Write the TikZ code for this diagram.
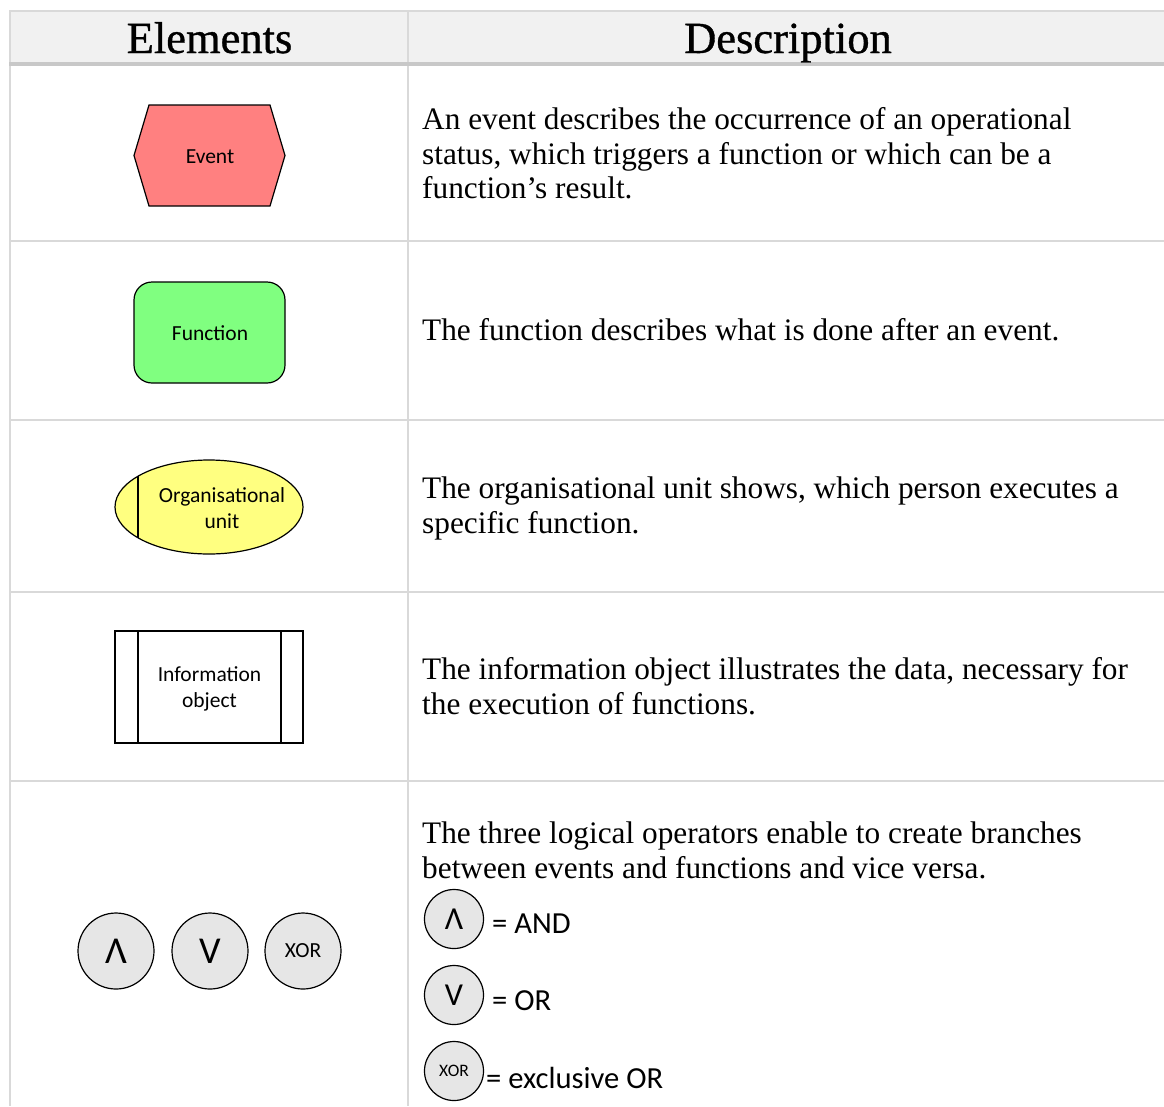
\documentclass[tikz,border=0pt]{standalone}
\usepackage{fontspec}
\setmainfont{Liberation Serif}
\newfontfamily\headfont[FakeBold=0.8]{Liberation Serif}
\newfontfamily\shapefont{Carlito}
\usetikzlibrary{shapes.geometric}

\definecolor{gridgray}{HTML}{D9D9D9}
\definecolor{headline}{HTML}{C8C8C8}
\definecolor{headfill}{HTML}{F1F1F1}
\definecolor{evtred}{HTML}{FF8080}
\definecolor{fungreen}{HTML}{80FF80}
\definecolor{orgyellow}{HTML}{FFFF80}
\definecolor{opgray}{HTML}{E6E6E6}

\begin{document}
\begin{tikzpicture}[x=1pt,y=-1pt,
  grid/.style={draw=gridgray,line width=2pt},
  shapeline/.style={draw=black,line width=1.2pt},
  lbl/.style={font=\shapefont\fontsize{21.5}{25.5}\selectfont,align=center,inner sep=0pt},
  desc/.style={font=\fontsize{31.3}{34.5}\selectfont,anchor=base west,inner sep=0pt},
  head/.style={font=\headfont\fontsize{44.5}{50}\selectfont,anchor=base,inner sep=0pt},
  opbig/.style={shapeline,circle,fill=opgray,minimum size=76pt,inner sep=0pt},
  opsmall/.style={shapeline,circle,fill=opgray,minimum size=59pt,inner sep=0pt},
  opsym/.style={font=\shapefont\fontsize{38}{42}\selectfont},
  opsymsmall/.style={font=\shapefont\fontsize{32}{36}\selectfont},
  opxor/.style={font=\shapefont\fontsize{21.5}{24}\selectfont},
  opxorsmall/.style={font=\shapefont\fontsize{17.5}{20}\selectfont},
  opdesc/.style={font=\shapefont\fontsize{30.6}{34}\selectfont,anchor=west,inner sep=0pt}
]
\useasboundingbox (0,0) rectangle (1164,1106);
\fill[white] (0,0) rectangle (1164,1106);

% table: header band and rules
\fill[headfill] (10,11) rectangle (1164,64);
\draw[grid] (9,11) -- (1164,11);
\draw[grid] (10,11) -- (10,1106);
\draw[grid] (408,11) -- (408,1106);
\foreach \yy in {241,420,592,781}
  \draw[grid] (10,\yy) -- (1164,\yy);
\draw[draw=headline,line width=3.5pt] (9,64) -- (1164,64);

\node[head] (hElements) at (209.5,53) {Elements};
\node[head] (hDescription) at (788,53) {Description};

% event
\fill[evtred] (134,155.5) -- (149,105) -- (270,105) -- (285,155.5) -- (270,206) -- (149,206) -- cycle;
\draw[shapeline,line join=miter] (134,155.5) -- (149,105) -- (270,105) -- (285,155.5) -- (270,206) -- (149,206) -- cycle;
\node[lbl] (event) at (210,156.5) {Event};

% function
\node[shapeline,fill=fungreen,rounded corners=18pt,minimum width=151pt,minimum height=101pt,inner sep=0pt]
  (funcbox) at (209.5,332.5) {};
\node[lbl] (function) at (210,333) {Function};

% organisational unit
\node[shapeline,ellipse,fill=orgyellow,minimum width=188pt,minimum height=94pt,inner sep=0pt]
  (orgbox) at (209,507) {};
\draw[shapeline] (138,476.3) -- (138,537.7);
\node[lbl] (org) at (222,508) {Organisational\\unit};

% information object
\node[shapeline,minimum width=188pt,minimum height=112pt,inner sep=0pt] (infobox) at (209,687) {};
\draw[shapeline] (138,631) -- (138,743);
\draw[shapeline] (281,631) -- (281,743);
\node[lbl] (info) at (209.5,689) {Information\\object};

% logical operators
\node[opbig,opsym] (opand) at (116,951) {Λ};
\node[opbig,opsym] (opor) at (210,951) {V};
\node[opbig,opxor] (opxor) at (303,951) {XOR};

% descriptions
\node[desc] (d1a) at (422,129.5) {An event describes the occurrence of an operational};
\node[desc] (d1b) at (422,164) {status, which triggers a function or which can be a};
\node[desc] (d1c) at (422,198.5) {function’s result.};

\node[desc] (d2a) at (422,340.5) {The function describes what is done after an event.};

\node[desc] (d3a) at (422,498.5) {The organisational unit shows, which person executes a};
\node[desc] (d3b) at (422,533) {specific function.};

\node[desc] (d4a) at (422,679.5) {The information object illustrates the data, necessary for};
\node[desc] (d4b) at (422,714) {the execution of functions.};

\node[desc] (d5a) at (422,843.5) {The three logical operators enable to create branches};
\node[desc] (d5b) at (422,878) {between events and functions and vice versa.};

\node[opsmall,opsymsmall] (sand) at (454,919) {Λ};
\node[opdesc] (tand) at (492,924) {= AND};
\node[opsmall,opsymsmall] (sor) at (454,995) {V};
\node[opdesc] (tor) at (492,1001) {= OR};
\node[opsmall,opxorsmall] (sxor) at (454,1071) {XOR};
\node[opdesc] (txor) at (486,1078) {= exclusive OR};
\end{tikzpicture}
\end{document}
